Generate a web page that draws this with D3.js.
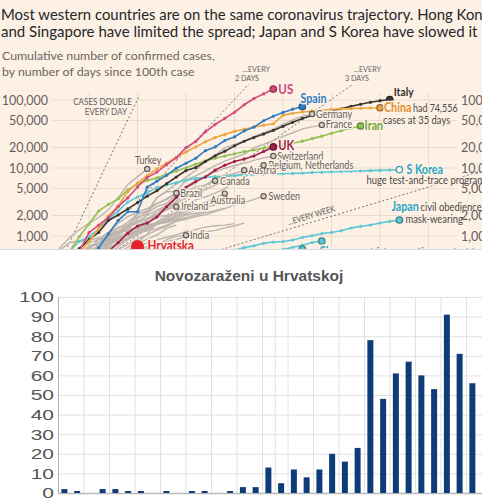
<!DOCTYPE html>
<html><head><meta charset="utf-8">
<script src="https://cdn.jsdelivr.net/npm/d3@7"></script>
<style>
html,body{margin:0;padding:0;background:#fff;overflow:hidden}
svg{display:block}
</style></head><body>
<svg id="c" width="482" height="499"></svg>
<script>
// ================= DATA =================
const titleLines = ["Most western countries are on the same coronavirus trajectory. Hong Kong",
                    "and Singapore have limited the spread; Japan and S Korea have slowed it"];
const subtitleLines = ["Cumulative number of confirmed cases,", "by number of days since 100th case"];
const logTicks = [1000, 2000, 5000, 10000, 20000, 50000, 100000];
const dayGrid = [5, 10, 15, 20, 25, 30, 35, 40];
const doublingPeriods = [1, 2, 3, 7];          // days to double
const doublingEndDays = [10.2, 21.5, 32.2, 47]; // where each guide stops

// highlighted countries (cumulative cases by day since 100th case)
const usCases = [100,160,250,400,600,1120,1450,1860,2700,3630,5250,7240,8710,11200,14100,20000,24500,33900,43600,53700,66100,85100,105000,123000,145000];
const spainCases = [120,165,222,259,400,500,673,1073,1695,2277,2277,5232,6391,7798,9942,11748,13910,17963,20410,25374,28603,35136,39885,49515,57786,65719,73235,80110];
const italyCases = [155,229,322,453,655,888,1128,1694,2036,2502,3089,3858,4636,5883,7375,9172,10149,12462,15113,17660,21157,24747,27980,31506,35713,41035,47021,53578,59138,63927,69176,74386,80589,86498,92472,97689,101739];
const chinaCases = [121,198,291,440,571,830,1287,1975,2744,4515,5974,7711,9692,11791,14380,17205,20438,24324,28018,31161,34546,37198,40171,42638,44653,59804,63851,66492,68500,70548,72436,74185,74576,75465,76288,76936];
const iranCases = [139,245,388,593,978,1501,2336,2922,3513,4747,5823,6566,7161,8042,9000,10075,11364,12729,13938,14991,16169,17361,18407,19644,20610,21638,23049,24811,27017,29406,32332,35408,38309,41495];
const ukCases = [100,140,190,250,320,380,460,590,800,1100,1400,1550,1900,2700,3700,5200,6300,7400,9300,11000,12500,13600,15000,17500,20400];
const koreaCases = [104,204,433,602,833,977,1261,1766,2337,3150,3736,4335,5186,5621,6088,6593,7041,7314,7478,7513,7755,7869,7979,8086,8162,8236,8320,8413,8565,8652,8799,8897,8961,9037,9137,9241,9332,9478];
const japanCases = [105,132,144,144,156,164,186,210,230,239,254,268,284,317,349,408,455,488,514,568,620,675,716,780,814,829,873,950,1007,1086,1128,1193,1307,1387,1450,1550,1640,1720];
const singaporeCases = [102,106,108,110,110,117,130,138,150,150,160,178,178,200,212,226,243,266,313,345,385,432,455,509,558,631,683,732,802,844];
const hongKongCases = [100,104,105,105,108,114,115,120,126,129,131,137,140,148,157,162,192,208,256,273,317,356,386,410,453,518,582,641];
const hrvatskaPoint = [10, 700];

// labelled grey countries
const germanyCases = [130,159,196,262,482,670,799,1040,1176,1457,1908,2078,3675,4585,5795,7272,9257,12327,15320,19848,22213,24873,29056,32986,37323,43938,50871,57695,62095];
const franceCases = [100,130,191,204,288,380,656,957,1134,1217,1792,2289,3672,4480,4513,6650,7652,9043,10871,12612,14282,16018,19856,22304,25233,29155,32964,37575,40174,43000];
const switzerlandCases = [114,214,268,337,374,491,652,652,1139,1359,2200,2200,2700,3028,4075,5294,6575,7474,8795,9877,10897,11811,12928,14076,15000];
const belgiumCases = [109,169,200,239,267,314,314,559,689,886,1058,1243,1486,1795,2257,2815,3401,3743,4269,4937,6235,7284,9134,11000];
const netherlandsCases = [128,188,265,321,382,503,503,806,962,1138,1416,1711,2058,2467,3003,3640,4216,4764,5580,6438,7468,8647,9819,11000];
const austriaCases = [104,131,182,246,302,504,655,860,1018,1332,1646,2013,2388,2814,3582,4474,5283,5588,7029,7697,8291,9300];
const canadaCases = [103,117,193,198,252,415,478,657,800,943,1277,1469,2088,2790,3251,4042,4682,5576,6500];
const turkeyCases = [191,359,670,947,1236,1529,1872,2433,3629,5698,7402,9700];
const brazilCases = [121,200,234,291,428,621,904,1128,1546,1924,2247,2554,2985,3417,4300];
const australiaCases = [107,128,128,200,250,297,377,452,568,681,791,1071,1549,1682,2044,2364,2810,3143,3640,4200];
const irelandCases = [129,169,223,292,557,683,785,906,1125,1329,1564,1819,2121,2415,2700];
const swedenCases = [101,161,203,248,355,500,599,814,961,1022,1103,1190,1279,1439,1639,1763,1934,2046,2286,2526,2840,3069,3447,3850];
const indiaCases = [102,113,119,142,156,194,244,330,396,499,536,657,727,887,987,1024];

// unlabelled grey countries
const norwayCases = [108,147,176,205,400,598,702,996,1090,1221,1333,1463,1550,1746,1914,2118,2385,2621,2863,3084,3369,3755];
const denmarkCases = [264,444,617,804,836,875,933,1025,1116,1225,1337,1420,1514,1572,1718,1862,2023,2200,2366,2564];
const israelCases = [109,131,178,250,304,427,529,712,883,1071,1238,1656,2369,2693,3035,3619,4247];
const czechCases = [116,150,214,298,383,450,560,765,889,1047,1161,1287,1472,1654,1925,2279,2631,2817,3001];
const malaysiaCases = [129,149,197,238,428,566,673,790,900,1030,1183,1306,1518,1624,1796,2031,2161,2320];
const chileCases = [155,201,238,238,342,434,537,632,746,922,1142,1306,1610,1909,2139];
const polandCases = [104,125,177,238,251,355,425,536,634,749,901,1051,1221,1389,1638,1862];
const portugalCases = [112,169,245,331,448,448,785,1020,1280,1600,2060,2362,2995,3544,4268,5170,5962];
const luxembourgCases = [140,203,335,484,670,798,875,1099,1333,1453,1605,1831,1950,1988,2178,2319,2487];
const pakistanCases = [187,236,299,454,501,730,776,875,972,1063,1201,1373,1495,1597,1717];
const romaniaCases = [123,131,158,184,260,277,308,367,433,576,762,906,1029,1292,1452];
const finlandCases = [155,225,244,277,321,336,400,450,523,626,700,792,880,958,1041,1167,1240,1352,1418,1446,1518];
const greeceCases = [117,190,228,331,331,387,418,418,495,530,624,695,743,821,892,966,1061,1156,1212,1314,1415,1544];

// bottom chart: daily new cases in Croatia
const barDays = ["26.2.","27.2.","28.2.","29.2.","1.3.","2.3.","3.3.","4.3.","5.3.","6.3.","7.3.","8.3.","9.3.","10.3.","11.3.","12.3.","13.3.","14.3.","15.3.","16.3.","17.3.","18.3.","19.3.","20.3.","21.3.","22.3.","23.3.","24.3.","25.3.","26.3.","27.3.","28.3.","29.3."];
const newCases = [2,1,0,2,2,1,1,0,1,0,1,1,0,1,3,3,13,5,12,8,12,20,16,23,78,48,61,67,60,53,91,71,56];
const barTicks = [0,10,20,30,40,50,60,70,80,90,100];
const barTitle = "Novozaraženi u Hrvatskoj";

// ================= DRAW =================
const W = 482, H = 499, TOPH = 249;
const CREAM = "#fdf1e6";
const svg = d3.select("#c");
const defs = svg.append("defs");
defs.append("clipPath").attr("id","topclip").append("rect").attr("width",W).attr("height",TOPH);
defs.append("clipPath").attr("id","plotclip").append("rect").attr("x",0).attr("y",84).attr("width",W).attr("height",TOPH-84);

svg.append("rect").attr("width",W).attr("height",H).attr("fill","#fff");
const topG = svg.append("g").attr("clip-path","url(#topclip)");
topG.append("rect").attr("width",W).attr("height",TOPH).attr("fill",CREAM);

function addText(g, txt, x, y, o = {}) {
  const t = g.append("text")
    .attr("transform", `translate(${x},${y}) scale(${o.sx || 1},1)`)
    .attr("font-family", o.ff || "Lato, sans-serif")
    .attr("font-size", o.fs || 10.5)
    .attr("font-weight", o.fw || 400)
    .attr("fill", o.fill || "#66605c")
    .attr("text-anchor", o.anchor || "start")
    .text(txt);
  if (o.halo) t.attr("stroke", CREAM).attr("stroke-width", 3).attr("stroke-linejoin","round").attr("paint-order","stroke");
  return t;
}
function fit(t, txt, target) {
  const full = t.text();
  t.text(txt);
  const w = t.node().getComputedTextLength();
  const fs = parseFloat(t.attr("font-size"));
  t.attr("font-size", fs * target / w);
  t.text(full);
}

// titles
const t1 = addText(topG, titleLines[0], 1, 20, {fs: 16, fill: "#262626"});
fit(t1, titleLines[0].slice(0, -1), 482);
const t2 = addText(topG, titleLines[1], 1, 37, {fs: 16, fill: "#262626"});
fit(t2, titleLines[1], 477);
const s1 = addText(topG, subtitleLines[0], 2, 60, {fs: 13, fill: "#6b6560"});
fit(s1, subtitleLines[0], 213);
addText(topG, subtitleLines[1], 2, 76, {fs: +s1.attr("font-size"), fill: "#6b6560"});

// scales
const x = d3.scaleLinear().domain([0, 40]).range([40.5, 428.5]);
const y = d3.scaleLog().domain([1000, 100000]).range([236, 100]);

// grid
const grid = topG.append("g");
grid.selectAll("line.h").data(logTicks).join("line")
  .attr("x1", 52).attr("x2", 457).attr("y1", d => y(d)).attr("y2", d => y(d))
  .attr("stroke", "#e9dccf").attr("stroke-width", 1);
grid.selectAll("line.v").data(dayGrid).join("line")
  .attr("x1", d => x(d)).attr("x2", d => x(d)).attr("y1", 92).attr("y2", TOPH)
  .attr("stroke", "#e9dccf").attr("stroke-width", 1);

// left axis labels
const fmt = d3.format(",");
const axL = topG.append("g").attr("transform", "translate(52,0)")
  .call(d3.axisLeft(y).tickValues(logTicks).tickFormat(fmt).tickSize(0).tickPadding(4));
axL.select(".domain").remove();
axL.selectAll("text").attr("font-family", "Lato, sans-serif").attr("font-size", 12.5).attr("fill", "#66605c");

const plot = topG.append("g").attr("clip-path", "url(#plotclip)");

// doubling guides
const guides = plot.append("g");
doublingPeriods.forEach((p, i) => {
  const endD = doublingEndDays[i];
  guides.append("line")
    .attr("x1", x(0)).attr("y1", y(100))
    .attr("x2", x(endD)).attr("y2", y(100 * Math.pow(2, endD / p)))
    .attr("stroke", "#6b6560").attr("stroke-width", 0.9).attr("stroke-dasharray", "2,2.2");
});
// guide labels
const gl = topG.append("g");
addText(gl, "CASES DOUBLE", 132, 105, {fs: 9.5, sx: 0.85, anchor: "end"});
addText(gl, "EVERY DAY", 127, 115, {fs: 9.5, sx: 0.85, anchor: "end"});
addText(gl, "...EVERY", 270, 72, {fs: 8.5, sx: 0.85, anchor: "end"});
addText(gl, "2 DAYS", 235, 81, {fs: 8.5, sx: 0.85});
addText(gl, "...EVERY", 381, 72, {fs: 8.5, sx: 0.85, anchor: "end"});
addText(gl, "3 DAYS", 345, 81, {fs: 8.5, sx: 0.85});
{
  const a = Math.atan2(y(100 * Math.pow(2, 40 / 7)) - y(100 * Math.pow(2, 20 / 7)), x(40) - x(20)) * 180 / Math.PI;
  const d0 = 28, yy = y(100 * Math.pow(2, d0 / 7)) - 4;
  gl.append("text").attr("transform", `translate(${x(d0)},${yy}) rotate(${a}) scale(0.85,1)`)
    .attr("text-anchor", "middle").attr("font-family", "Lato, sans-serif").attr("font-size", 8.5)
    .attr("fill", "#66605c").text("...EVERY WEEK");
}

const line = d3.line().x((d, i) => x(i)).y(d => y(d));

// grey lines
const GREY = "#bdb4ab";
const greySeries = [norwayCases, denmarkCases, israelCases, czechCases, malaysiaCases, chileCases, polandCases,
  portugalCases, luxembourgCases, pakistanCases, romaniaCases, finlandCases, greeceCases,
  germanyCases, franceCases, switzerlandCases, belgiumCases, netherlandsCases, austriaCases, canadaCases,
  turkeyCases, brazilCases, australiaCases, irelandCases, swedenCases, indiaCases];
plot.append("g").selectAll("path").data(greySeries).join("path")
  .attr("d", line).attr("fill", "none").attr("stroke", GREY).attr("stroke-width", 1.4);

// highlighted lines
const highlighted = [
  {name: "Singapore", values: singaporeCases, color: "#5dc7d3", label: "#2aa5c3"},
  {name: "Hong Kong", values: hongKongCases, color: "#5dc7d3", label: "#2aa5c3"},
  {name: "Japan", values: japanCases, color: "#5dc7d3", label: "#2aa5c3"},
  {name: "S Korea", values: koreaCases, color: "#5dc7d3", label: "#2aa5c3"},
  {name: "Iran", values: iranCases, color: "#92c052", label: "#74a733"},
  {name: "UK", values: ukCases, color: "#a31f50", label: "#9c1c4a"},
  {name: "Italy", values: italyCases, color: "#3b3633", label: "#33302e"},
  {name: "China", values: chinaCases, color: "#eda43b", label: "#e1902a"},
  {name: "Spain", values: spainCases, color: "#2d7dc4", label: "#2b7ec1"},
  {name: "US", values: usCases, color: "#d7477c", label: "#d4457a"}
];
const hl = plot.append("g");
highlighted.forEach(s => {
  hl.append("path").attr("d", line(s.values)).attr("fill", "none").attr("stroke", s.color).attr("stroke-width", 1.6);
  hl.append("g").selectAll("circle").data(s.values).join("circle")
    .attr("cx", (d, i) => x(i)).attr("cy", d => y(d)).attr("r", 1.6).attr("fill", s.color);
});

// end markers
const marks = topG.append("g");
function endOf(arr) { return [x(arr.length - 1), y(arr[arr.length - 1])]; }
const greyLabels = [
  ["Germany", germanyCases, 4, 3.5], ["France", franceCases, 4, 3.5], ["Switzerland", switzerlandCases, 4, 3.5],
  ["Belgium, Netherlands", belgiumCases, 5, 3.5], ["Austria", austriaCases, 4, 3.5], ["Canada", canadaCases, 5, 4],
  ["Brazil", brazilCases, 4, 4], ["Ireland", irelandCases, 5, 3.5], ["Sweden", swedenCases, 5, 3.5], ["India", indiaCases, 4, 3.5]
];
greyLabels.forEach(([name, arr, dx, dy]) => {
  const [cx, cy] = endOf(arr);
  addText(marks, name, cx + dx, cy + dy, {fs: 10.5, sx: 0.86, halo: true});
});
{
  const [cx, cy] = endOf(turkeyCases);
  addText(marks, "Turkey", cx + 1, cy - 5, {fs: 10.5, sx: 0.86, anchor: "middle", halo: true});
  const [ax, ay] = endOf(australiaCases);
  addText(marks, "Australia", ax + 3, ay + 10, {fs: 10.5, sx: 0.86, anchor: "middle", halo: true});
}
[germanyCases, franceCases, switzerlandCases, belgiumCases, austriaCases, canadaCases, turkeyCases, brazilCases,
 australiaCases, irelandCases, swedenCases, indiaCases].forEach(arr => {
  const [cx, cy] = endOf(arr);
  marks.append("circle").attr("cx", cx).attr("cy", cy).attr("r", 2.6)
    .attr("fill", "#d9cfc6").attr("stroke", "#5f5955").attr("stroke-width", 1.2);
});

highlighted.forEach(s => {
  const [cx, cy] = endOf(s.values);
  marks.append("circle").attr("cx", cx).attr("cy", cy).attr("r", 3.2)
    .attr("fill", s.name === "S Korea" ? CREAM : s.color)
    .attr("stroke", s.name === "S Korea" ? s.label : d3.color(s.color).darker(1.2)).attr("stroke-width", 1.3);
});

const col = Object.fromEntries(highlighted.map(s => [s.name, s]));
function hlLabel(name, arr, dx, dy, fs) {
  const [cx, cy] = endOf(arr);
  return addText(marks, name, cx + dx, cy + dy, {fs: fs || 13, fw: 700, sx: 0.86, fill: col[name].label, halo: true});
}
hlLabel("US", usCases, 5, 5, 13.5);
hlLabel("Spain", spainCases, -2, -4, 12.5);
hlLabel("Italy", italyCases, 4, -3, 12);
hlLabel("China", chinaCases, 4, 4, 12.5);
hlLabel("Iran", iranCases, 4, 4, 12.5);
hlLabel("UK", ukCases, 5, 3, 13);
hlLabel("S Korea", koreaCases, 7, 4, 12.5);
hlLabel("Japan", japanCases, -8, -9, 12.5);
hlLabel("Singapore", singaporeCases, -2, 15, 12.5);
{
  const [cx, cy] = endOf(chinaCases);
  addText(marks, "had 74,556", cx + 33, cy + 4, {fs: 10.5, sx: 0.85, fill: "#4d4845", halo: true});
  addText(marks, "cases at 35 days", cx + 3, cy + 16, {fs: 10.5, sx: 0.9, fill: "#4d4845", halo: true});
  const [kx, ky] = endOf(koreaCases);
  addText(marks, "huge test-and-trace programme", kx - 33, ky + 14, {fs: 10.5, sx: 0.9, fill: "#4d4845", halo: true});
  const [jx, jy] = endOf(japanCases);
  addText(marks, "civil obedience,", jx + 21, jy - 9, {fs: 10.5, sx: 0.9, fill: "#4d4845", halo: true});
  addText(marks, "mask-wearing", jx + 6, jy + 3.5, {fs: 10.5, sx: 0.9, fill: "#4d4845", halo: true});
  const [sx_, sy_] = endOf(singaporeCases);
  addText(marks, "strict quarantine, contact tracing", sx_ + 44, sy_ + 15, {fs: 10.5, sx: 0.9, fill: "#4d4845", halo: true});
}
// Hrvatska marker
marks.append("circle").attr("cx", x(hrvatskaPoint[0])).attr("cy", y(hrvatskaPoint[1])).attr("r", 6.5).attr("fill", "#e3222b");
addText(marks, "Hrvatska", x(hrvatskaPoint[0]) + 10, y(hrvatskaPoint[1]) + 3, {fs: 13.5, fw: 700, sx: 0.86, fill: "#e3222b", halo: true});

// right axis labels (drawn on top, cut by the edge)
const axR = topG.append("g").attr("transform", "translate(457,0)")
  .call(d3.axisRight(y).tickValues(logTicks).tickFormat(fmt).tickSize(0).tickPadding(4));
axR.select(".domain").remove();
axR.selectAll("text").attr("font-family", "Lato, sans-serif").attr("font-size", 12.5).attr("fill", "#66605c");

// divider
svg.append("line").attr("x1", 0).attr("x2", W).attr("y1", TOPH + 0.5).attr("y2", TOPH + 0.5).attr("stroke", "#dcdcdc");

// ================= BOTTOM BAR CHART =================
const bot = svg.append("g");
const X0 = 58, STEP = 12.75;
const xb = d3.scaleBand().domain(barDays).range([X0, X0 + STEP * barDays.length]).paddingInner(0.53).paddingOuter(0.265);
const yb = d3.scaleLinear().domain([0, 100]).range([493, 297]);

bot.append("text").attr("x", 249).attr("y", 281).attr("text-anchor", "middle")
  .attr("font-family", "'Liberation Sans', Arial, sans-serif").attr("font-weight", 700).attr("font-size", 15.5)
  .attr("fill", "#555").text(barTitle);

bot.append("g").selectAll("line").data(barTicks).join("line")
  .attr("x1", X0).attr("x2", W).attr("y1", d => yb(d) + 0.5).attr("y2", d => yb(d) + 0.5)
  .attr("stroke", d => d === 0 ? "#b9b9b9" : "#e2e2e2").attr("stroke-width", d => d === 0 ? 1.5 : 1);
const vIdx = d3.range(0, barDays.length + 1, 2).concat([17]);
bot.append("g").selectAll("line").data(vIdx).join("line")
  .attr("x1", d => X0 + xb.step() * d + 0.5).attr("x2", d => X0 + xb.step() * d + 0.5)
  .attr("y1", yb(100)).attr("y2", yb(0))
  .attr("stroke", d => d === 0 ? "#b0b0b0" : "#e2e2e2").attr("stroke-width", 1);

const axB = bot.append("g").attr("transform", "translate(54,0) scale(1.4,1)")
  .call(d3.axisLeft(yb).tickValues(barTicks).tickSize(0).tickPadding(0));
axB.select(".domain").remove();
axB.selectAll("text").attr("font-family", "'Liberation Sans', Arial, sans-serif").attr("font-size", 15).attr("fill", "#555");

bot.append("g").selectAll("rect").data(newCases).join("rect")
  .attr("x", (d, i) => xb(barDays[i])).attr("width", xb.bandwidth())
  .attr("y", d => yb(d)).attr("height", d => yb(0) - yb(d))
  .attr("fill", "#0d3c78");
</script>
</body></html>
